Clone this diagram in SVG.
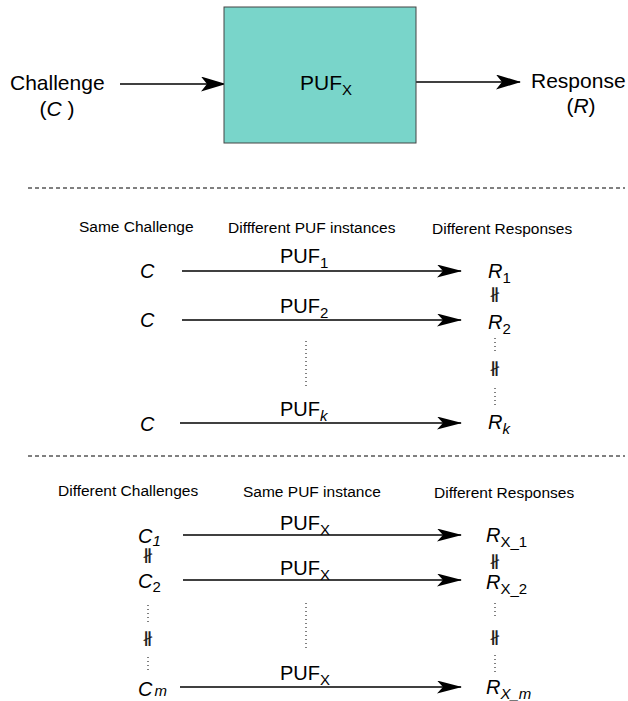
<svg xmlns="http://www.w3.org/2000/svg" width="628" height="701" viewBox="0 0 628 701">
<style>
text{font-family:"Liberation Sans",Arial,sans-serif;fill:#000}
.big{font-size:21px}
.mid{font-size:20px}
.hdr{font-size:15.5px}
.it{font-style:italic}
.ne{font-family:"DejaVu Sans",sans-serif;font-size:15px;fill:#222}
.conn{stroke:#000;stroke-width:1.6;fill:none}
.dash{stroke:#000;stroke-width:1;stroke-dasharray:4 3;fill:none}
.dot{stroke:#000;stroke-width:1;stroke-dasharray:1 3;fill:none}
</style>
<defs>
<marker id="ah" viewBox="0 0 25 15" refX="24" refY="7.5" markerWidth="25" markerHeight="15" markerUnits="userSpaceOnUse" orient="auto">
<path d="M0,0 L25,7.5 L0,15 L6,7.5 z" fill="#000"/>
</marker>
<marker id="ah2" viewBox="0 0 25 13" refX="24" refY="6.5" markerWidth="25" markerHeight="13" markerUnits="userSpaceOnUse" orient="auto">
<path d="M0,0 L25,6.5 L0,13 L6,6.5 z" fill="#000"/>
</marker>
</defs>
<g id="connectors">
<line class="conn" x1="120" y1="84" x2="225" y2="84" marker-end="url(#ah)"/>
<line class="conn" x1="416" y1="82" x2="520" y2="82" marker-end="url(#ah)"/>
<line class="dash" x1="28" y1="188" x2="625" y2="188"/>
<line class="dash" x1="28" y1="456" x2="625" y2="456"/>
<line class="conn" x1="182" y1="271" x2="461" y2="271" marker-end="url(#ah2)"/>
<line class="conn" x1="182" y1="320" x2="461" y2="320" marker-end="url(#ah2)"/>
<line class="conn" x1="180" y1="423" x2="461" y2="423" marker-end="url(#ah2)"/>
<line class="dot" x1="306" y1="341" x2="306" y2="386"/>
<line class="dot" x1="495" y1="338" x2="495" y2="354"/>
<line class="dot" x1="495" y1="388" x2="495" y2="407"/>
<line class="conn" x1="183" y1="535" x2="461" y2="535" marker-end="url(#ah2)"/>
<line class="conn" x1="183" y1="580" x2="461" y2="580" marker-end="url(#ah2)"/>
<line class="conn" x1="180" y1="687" x2="461" y2="687" marker-end="url(#ah2)"/>
<line class="dot" x1="306" y1="603" x2="306" y2="650"/>
<line class="dot" x1="148" y1="605" x2="148" y2="622"/>
<line class="dot" x1="148" y1="657" x2="148" y2="673"/>
<line class="dot" x1="495" y1="603" x2="495" y2="619"/>
<line class="dot" x1="495" y1="655" x2="495" y2="673"/>
</g>
<g id="puf-box">
<rect x="224" y="7" width="192" height="136" fill="#79d5ca" stroke="#444" stroke-width="1"/>
<text class="big" x="300" y="90">PUF<tspan font-size="15" dy="5">X</tspan></text>
</g>
<g id="challenge">
<text class="big" x="10" y="90">Challenge</text>
<text class="big" x="57" y="116" text-anchor="middle">(<tspan class="it">C</tspan> )</text>
</g>
<g id="response">
<text class="big" x="531" y="88">Response</text>
<text class="big" x="581" y="113" text-anchor="middle">(<tspan class="it">R</tspan>)</text>
</g>
<g id="sec2-headers">
<text class="hdr" x="79" y="232">Same Challenge</text>
<text class="hdr" x="228" y="233">Diffferent PUF instances</text>
<text class="hdr" x="432" y="234">Different Responses</text>
</g>
<g id="sec2-left">
<text class="mid it" x="140" y="278">C</text>
<text class="mid it" x="140" y="327">C</text>
<text class="mid it" x="140" y="431">C</text>
</g>
<g id="sec2-puf">
<text class="mid" x="280" y="263">PUF<tspan font-size="15" dy="5">1</tspan></text>
<text class="mid" x="280" y="313">PUF<tspan font-size="15" dy="5">2</tspan></text>
<text class="mid" x="280" y="416">PUF<tspan font-size="15" dy="5" class="it">k</tspan></text>
</g>
<g id="sec2-right">
<text class="mid it" x="488" y="278">R<tspan font-size="15" dy="5" font-style="normal">1</tspan></text>
<text class="ne" transform="translate(495,299) scale(1.6,1)" text-anchor="middle">∦</text>
<text class="mid it" x="488" y="329">R<tspan font-size="15" dy="5" font-style="normal">2</tspan></text>
<text class="ne" transform="translate(495,373) scale(1.6,1)" text-anchor="middle">∦</text>
<text class="mid it" x="488" y="429">R<tspan font-size="15" dy="5">k</tspan></text>
</g>
<g id="sec3-headers">
<text class="hdr" x="58" y="496">Different Challenges</text>
<text class="hdr" x="243" y="497">Same PUF instance</text>
<text class="hdr" x="434" y="498">Different Responses</text>
</g>
<g id="sec3-left">
<text class="mid it" x="138" y="543">C<tspan font-size="15" dy="3">1</tspan></text>
<text class="ne" transform="translate(148,560) scale(1.6,1)" text-anchor="middle">∦</text>
<text class="mid it" x="138" y="588">C<tspan font-size="15" dy="4" font-style="normal">2</tspan></text>
<text class="ne" transform="translate(148,643) scale(1.6,1)" text-anchor="middle">∦</text>
<text class="mid it" x="138" y="696">C<tspan font-size="15" dx="2">m</tspan></text>
</g>
<g id="sec3-puf">
<text class="mid" x="280" y="530">PUF<tspan font-size="15" dy="5">X</tspan></text>
<text class="mid" x="280" y="575">PUF<tspan font-size="15" dy="5">X</tspan></text>
<text class="mid" x="280" y="680">PUF<tspan font-size="15" dy="5">X</tspan></text>
</g>
<g id="sec3-right">
<text class="mid it" x="486" y="542">R<tspan font-size="15" dy="5" font-style="normal">X_1</tspan></text>
<text class="ne" transform="translate(495,566) scale(1.6,1)" text-anchor="middle">∦</text>
<text class="mid it" x="486" y="589">R<tspan font-size="15" dy="5" font-style="normal">X_2</tspan></text>
<text class="ne" transform="translate(495,642) scale(1.6,1)" text-anchor="middle">∦</text>
<text class="mid it" x="486" y="694">R<tspan font-size="15" dy="5">X_m</tspan></text>
</g>
</svg>
